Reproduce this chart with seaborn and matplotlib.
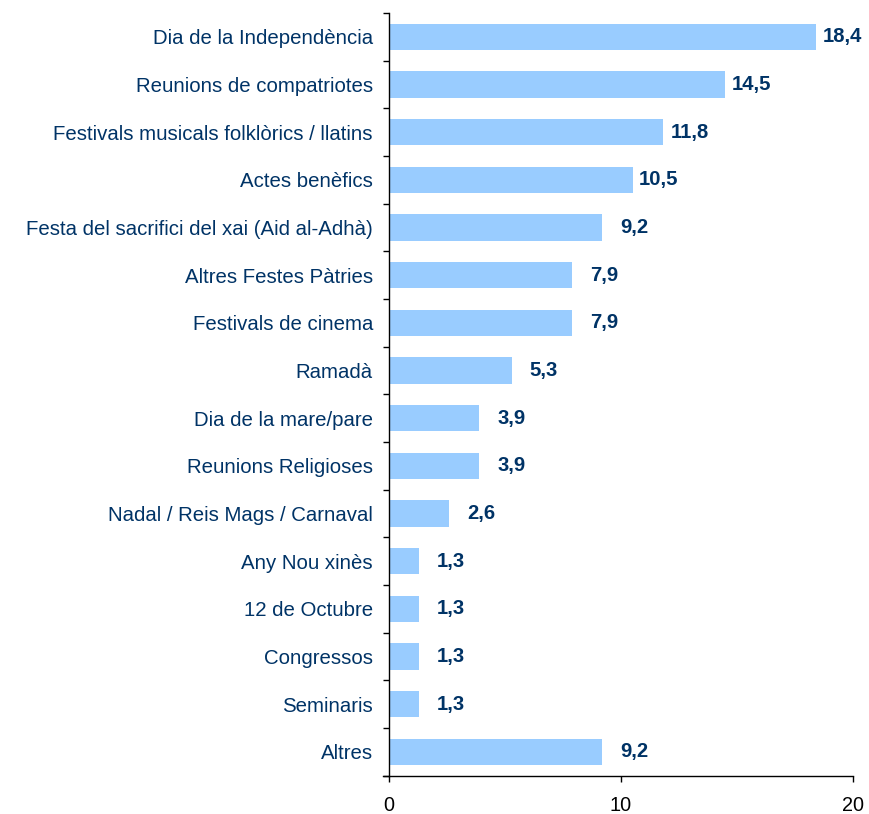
import matplotlib
matplotlib.use("Agg")
import matplotlib.pyplot as plt
import seaborn as sns
import pandas as pd
import numpy as np
from matplotlib.ticker import FixedLocator

categories = [
    "Dia de la Independència",
    "Reunions de compatriotes",
    "Festivals musicals folklòrics / llatins",
    "Actes benèfics",
    "Festa del sacrifici del xai (Aid al-Adhà)",
    "Altres Festes Pàtries",
    "Festivals de cinema",
    "Ramadà",
    "Dia de la mare/pare",
    "Reunions Religioses",
    "Nadal / Reis Mags / Carnaval",
    "Any Nou xinès",
    "12 de Octubre",
    "Congressos",
    "Seminaris",
    "Altres",
]
values = [18.4, 14.5, 11.8, 10.5, 9.2, 7.9, 7.9, 5.3, 3.9, 3.9, 2.6, 1.3, 1.3, 1.3, 1.3, 9.2]
xticks = [0, 10, 20]

df = pd.DataFrame({"cat": categories, "val": values})

sns.set_style("white")
plt.rcParams["font.family"] = ["Liberation Sans", "DejaVu Sans"]

fig = plt.figure(figsize=(8.69, 8.14), dpi=100)
ax = fig.add_axes([0.4476, 0.047, 0.9816 - 0.4476, 0.937])

sns.barplot(data=df, x="val", y="cat", color="#99CCFF", saturation=1,
            width=0.55, ax=ax, edgecolor="none")

label_color = "#003366"
xmax = 20
for i, v in enumerate(values):
    # value labels right-aligned a fixed distance past the bar end
    ax.annotate(f"{v:.1f}".replace(".", ","), xy=(v, i), xytext=(33, 0),
                textcoords="offset points", va="center", ha="right",
                fontsize=14.6, fontweight="bold", color=label_color,
                annotation_clip=False)

ax.set_xlim(0, xmax)
ax.set_ylim(len(categories) - 0.5, -0.5)
ax.set_xticks(xticks)
ax.set_xticklabels([str(t) for t in xticks], fontsize=14.3, color="black")
ax.set_yticks(range(len(categories)))
ax.set_yticklabels(categories, fontsize=14.7, color=label_color)
ax.yaxis.set_minor_locator(FixedLocator(np.arange(-0.5, len(categories), 1)))
ax.tick_params(axis="y", which="major", left=False, length=0, pad=11.5)
ax.tick_params(axis="y", which="minor", left=True, length=4.3, width=1,
               color="black", direction="out")
ax.tick_params(axis="x", which="major", bottom=True, length=4.3, width=1,
               color="black", direction="out", pad=10)
ax.set_xlabel("")
ax.set_ylabel("")

for s in ["top", "right"]:
    ax.spines[s].set_visible(False)
for s in ["left", "bottom"]:
    ax.spines[s].set_color("black")
    ax.spines[s].set_linewidth(1)
ax.spines["bottom"].set_bounds(-0.27, xmax)

fig.savefig("out.png", dpi=100, facecolor="white")
